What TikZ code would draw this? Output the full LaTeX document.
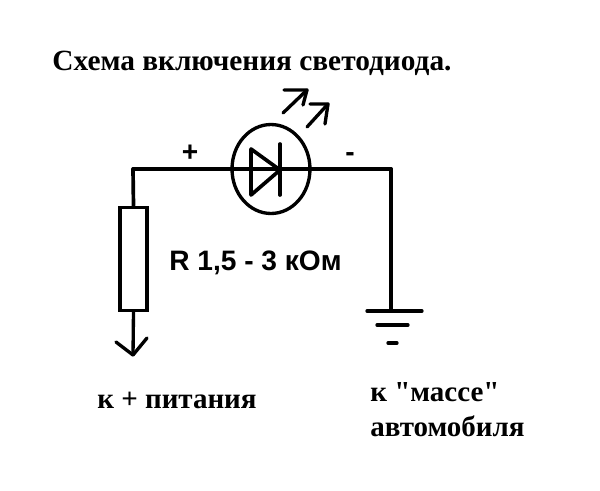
\documentclass[tikz,border=0pt]{standalone}
\usepackage{fontspec}
\newfontfamily\serifbold{Liberation Serif}
\newfontfamily\labelfont{Liberation Sans}
\usetikzlibrary{shapes.geometric}
\tikzset{wire/.style={line width=2.1pt, line cap=round, line join=round},
	thin wire/.style={line width=1.9pt, line cap=round, line join=round},
	caption/.style={inner sep=0pt, font=\serifbold\bfseries\fontsize{16.5}{19}\selectfont, align=left},
	sign/.style={inner sep=0pt, font=\labelfont\bfseries\fontsize{16}{19}\selectfont}}

\begin{document}
\begin{tikzpicture}[x=0.02cm,y=-0.02cm]
\useasboundingbox (0,0) rectangle (600,491);
\node[caption, anchor=west, font=\serifbold\bfseries\fontsize{16.7}{19}\selectfont] (title) at (52,63) {Схема включения светодиода.};
\node[draw, ellipse, line width=1.9pt, minimum width=1.56cm, minimum height=1.78cm, inner sep=0pt] (led) at (271,169) {};
\node[draw, rectangle, line width=2.1pt, minimum width=0.54cm, minimum height=2.06cm, inner sep=0pt] (res) at (133.5,259) {};

\coordinate (corner) at (133,169);
\coordinate (corner2) at (391,169);
\coordinate (gnd) at (391,311);
\coordinate (tip) at (133,355);
\coordinate (tipl) at (116,342);
\coordinate (tipr) at (147,338);
\coordinate (d1) at (251,149);
\coordinate (d2) at (251,195);
\coordinate (d3) at (280,170);
\coordinate (b1) at (280,144);
\coordinate (b2) at (280,195);

\foreach \from/\to in {res.north/corner,corner/corner2,corner2/gnd}
{
	\draw[wire] (\from) -- (\to);
}
\draw[thin wire] (res.south) -- (tip);
\draw[thin wire] (tipl) -- (tip) -- (tipr);

\draw[wire] (d1) -- (d2) -- (d3) -- cycle;
\draw[wire] (b1) -- (b2);

% ground
\coordinate (g1l) at (367,311);
\coordinate (g1r) at (422,311);
\coordinate (g2l) at (377,325);
\coordinate (g2r) at (408,325);
\coordinate (g3l) at (388,343);
\coordinate (g3r) at (397,343);
\foreach \from/\to in {g1l/g1r,g2l/g2r,g3l/g3r}
{
	\draw[thin wire] (\from) -- (\to);
}

% light
\coordinate (a1) at (283,113);
\coordinate (a2) at (307,90);
\coordinate (a3) at (284,90);
\coordinate (a4) at (303,105);
\coordinate (c1) at (307,127);
\coordinate (c2) at (328,104);
\coordinate (c3) at (310,104);
\coordinate (c4) at (325,124);
\draw[thin wire] (a1) -- (a2);
\draw[thin wire] (a3) -- (a2) -- (a4);
\draw[thin wire] (c1) -- (c2);
\draw[thin wire] (c3) -- (c2) -- (c4);

\node[sign] (plus) at (190,153) {+};
\node[sign] (minus) at (350,157) {-};
\node[sign, anchor=west] (rval) at (169,263) {R 1,5 - 3 кОм};
\node[caption, anchor=west] (pwr) at (97,400) {к + питания};
\node[caption, anchor=west] (car1) at (370,392) {к "массе"};
\node[caption, anchor=west] (car2) at (370,426) {автомобиля};
\end{tikzpicture}
\end{document}
